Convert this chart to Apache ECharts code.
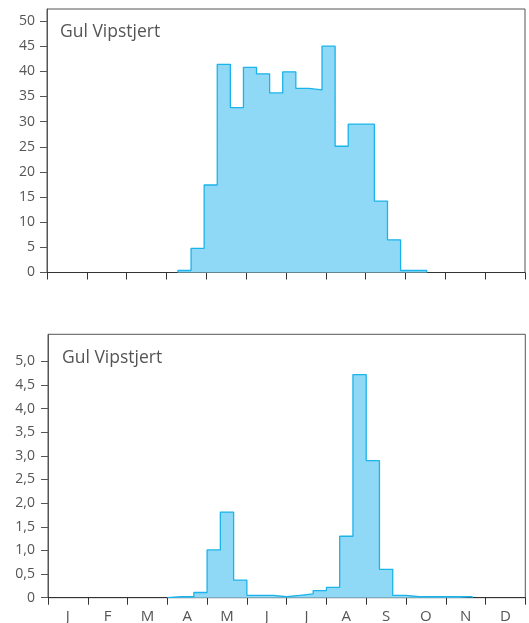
<!DOCTYPE html>
<html>
<head>
<meta charset="utf-8">
<script src="https://cdn.jsdelivr.net/npm/echarts@6/dist/echarts.min.js"></script>
<style>
html,body{margin:0;padding:0;background:#fff;}
#chart{width:529px;height:623px;}
</style>
</head>
<body>
<div id="chart"></div>
<script>
// Month labels (x axis)
const months = ['J','F','M','A','M','J','J','A','S','O','N','D'];
// Top panel: 10-day bins, first bin index 10 (day 100)
const topFirstBin = 10;
const topValues = [0.4, 4.8, 17.4, 41.4, 32.8, 40.8, 39.5, 35.7, 39.9, 36.6, 36.3, 45.0, 25.1, 29.5, 29.5, 14.2, 6.5, 0.4, 0.4];
const topTicks = [0,5,10,15,20,25,30,35,40,45,50];
// Bottom panel: dekads (3 per month), first bin index 9
const botFirstBin = 9;
const botValues = [0.02, 0.02, 0.11, 1.01, 1.81, 0.37, 0.05, 0.05, 0.02, 0.05, 0.08, 0.15, 0.22, 1.30, 4.72, 2.90, 0.60, 0.05, 0.02, 0.02, 0.02, 0.02, 0.02];
const botTicks = [0,0.5,1,1.5,2,2.5,3,3.5,4,4.5,5];
const title = 'Gul Vipstjert';

function stepData(first, vals, binSize){
  const d = [[first*binSize, 0]];
  vals.forEach((v,i)=>d.push([(first+i)*binSize, v]));
  d.push([(first+vals.length)*binSize, 0]);
  return d;
}

const FONT = 'Open Sans';
const TXT = '#555';
const AX = '#555';
const fill = '#8fd8f6';
const stroke = '#1ab4ea';

const chart = echarts.init(document.getElementById('chart'));
chart.setOption({
  animation:false,
  textStyle:{fontFamily:FONT},
  title:[
    {text:title, left:55, top:18, textStyle:{fontFamily:FONT,fontSize:17.5,fontWeight:'normal',color:TXT}},
    {text:title, left:57, top:344, textStyle:{fontFamily:FONT,fontSize:17.5,fontWeight:'normal',color:TXT}}
  ],
  grid:[
    {left:47, top:9, width:478, height:263.5, show:true, borderColor:AX, borderWidth:1, containLabel:false, outerBoundsMode:'none'},
    {left:48, top:334.3, width:477.3, height:263.4, show:true, borderColor:AX, borderWidth:1, containLabel:false, outerBoundsMode:'none'}
  ],
  xAxis:[
    {type:'category', gridIndex:0, data:months, boundaryGap:true,
     axisLine:{lineStyle:{color:'#333'}}, axisTick:{show:true, interval:0, length:7, lineStyle:{color:'#333'}},
     axisLabel:{show:true, interval:0, color:'rgba(0,0,0,0)', fontSize:1}},
    {type:'value', gridIndex:0, min:0, max:365, show:false},
    {type:'category', gridIndex:1, data:months, boundaryGap:true,
     axisLine:{lineStyle:{color:'#333'}}, axisTick:{show:true, interval:0, length:7, lineStyle:{color:'#333'}},
     axisLabel:{interval:0, margin:12, fontSize:15, color:TXT, fontFamily:FONT}},
    {type:'value', gridIndex:1, min:0, max:36, show:false}
  ],
  yAxis:[
    {type:'value', gridIndex:0, min:0, max:52.39,
     axisLine:{show:true, lineStyle:{color:AX}}, splitLine:{show:false},
     axisTick:{show:true, length:7, lineStyle:{color:AX}, customValues:topTicks},
     axisLabel:{margin:12, fontSize:14, color:TXT, fontFamily:FONT, customValues:topTicks}},
    {type:'value', gridIndex:1, min:0, max:5.571,
     axisLine:{show:true, lineStyle:{color:AX}}, splitLine:{show:false},
     axisTick:{show:true, length:7, lineStyle:{color:AX}, customValues:botTicks},
     axisLabel:{margin:13, fontSize:14, color:TXT, fontFamily:FONT, customValues:botTicks,
       formatter:v=> v===0 ? '0' : v.toFixed(1).replace('.',',')}}
  ],
  series:[
    {type:'line', xAxisIndex:1, yAxisIndex:0, step:'end', showSymbol:false, silent:true,
     data:stepData(topFirstBin, topValues, 10),
     lineStyle:{color:stroke, width:1.3}, areaStyle:{color:fill, opacity:1}, z:1},
    {type:'line', xAxisIndex:3, yAxisIndex:1, step:'end', showSymbol:false, silent:true,
     data:stepData(botFirstBin, botValues, 1),
     lineStyle:{color:stroke, width:1.3}, areaStyle:{color:fill, opacity:1}, z:1}
  ]
});
</script>
</body>
</html>
